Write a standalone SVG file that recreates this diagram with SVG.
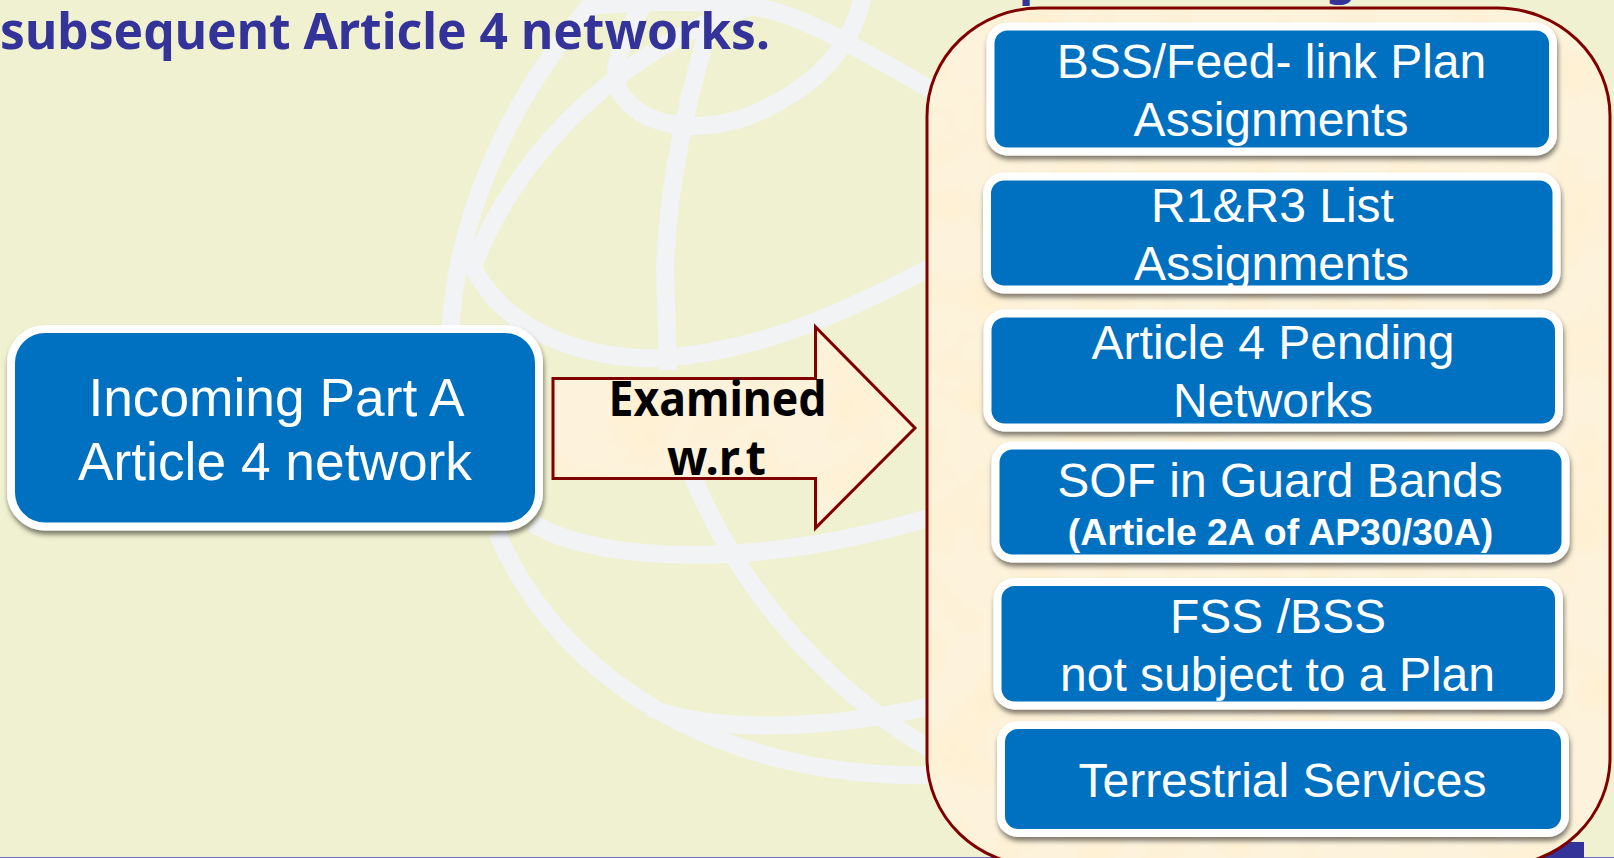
<svg xmlns="http://www.w3.org/2000/svg" width="1614" height="858" viewBox="0 0 1614 858">
<defs>
<filter id="sh" x="-5%" y="-10%" width="110%" height="125%"><feDropShadow dx="1" dy="4" stdDeviation="2.500" flood-color="#000" flood-opacity="0.5"/></filter>
<filter id="tex" x="0" y="0" width="100%" height="100%" color-interpolation-filters="sRGB">
<feTurbulence type="fractalNoise" baseFrequency="0.018" numOctaves="3" seed="4" result="n"/>
<feColorMatrix in="n" type="matrix" values="0 0 0 0 1  0 0 0 0 0.93  0 0 0 0 0.78  1.200 0 0 0 -0.480" result="c"/>
<feComposite in="c" in2="SourceGraphic" operator="atop" result="t"/>
<feMerge><feMergeNode in="SourceGraphic"/><feMergeNode in="t"/></feMerge>
</filter>
<path id="arrow-shape" d="M553,378.500H815.500V327L915,428L815.500,528V478.500H553Z"/>
<rect id="wrap-shape" x="927" y="8" width="683" height="858" rx="113" ry="108"/>
</defs>
<style>
.globe{fill:none;stroke:#F1F3F5;stroke-width:18}
.node{fill:#0070C0;stroke:#fff;stroke-width:8;filter:url(#sh)}
.lab{font-family:"Liberation Sans",Arial,sans-serif;font-size:48px;fill:#fff;text-anchor:middle}
.big{font-size:53.300px}
.sub{font-size:37.400px;font-weight:700}
.title{font-family:"Noto Sans",sans-serif;font-weight:700;fill:#333399}
.wf{fill:#FDF3DC;filter:url(#tex)}
.ws{fill:none;stroke:#800000;stroke-width:3}
.ex{font-family:"Noto Sans",sans-serif;font-weight:700;font-size:47.500px;fill:#000;text-anchor:middle}
</style>
<rect id="background" width="1614" height="858" fill="#F0F1D0"/>
<g id="globe">
<path class="globe" d="M450,335C455,230 500,110 590,6Q670,-2 750,6C800,12 870,55 935,92M497,533C560,680 720,780 935,775"/>
<path class="globe" d="M750,7C640,40 520,140 473,267C510,340 600,360 660,358C760,352 850,310 935,265"/>
<path class="globe" d="M643,5C620,40 610,75 620,92C640,125 690,135 747,117C800,95 850,60 863,-5"/>
<path class="globe" d="M720,-5C690,80 668,180 665,267L668,370M690,470C730,570 810,680 935,752"/>
<path class="globe" d="M533,523C575,552 720,580 935,516"/>
<path class="globe" d="M650,708C720,735 840,728 935,705"/>
</g>
<rect id="footer-line" x="0" y="857" width="1614" height="1" fill="#7472B0"/>
<rect id="footer-block" x="1500" y="842" width="84" height="16" fill="#333399"/>
<text class="title" x="0" y="49" font-size="51" textLength="770" lengthAdjust="spacingAndGlyphs">subsequent Article 4 networks.</text>
<text class="title" x="1019" y="-5.500" font-size="47">p</text>
<text class="title" x="1326" y="-6" font-size="47">g</text>
<g id="connectors">
<use href="#arrow-shape" class="wf"/><use href="#arrow-shape" class="ws"/>
<text class="ex" x="717.500" y="416" textLength="218" lengthAdjust="spacingAndGlyphs">Examined</text>
<text class="ex" x="716.500" y="475" textLength="99" lengthAdjust="spacingAndGlyphs">w.r.t</text>
</g>
<g id="container"><use href="#wrap-shape" class="wf"/><use href="#wrap-shape" class="ws"/></g>
<g id="n0"><rect class="node" x="11" y="329" width="528" height="197.500" rx="34"/><text class="lab big" x="276.500" y="416">Incoming Part A</text><text class="lab big" x="275" y="479.500">Article 4 network</text></g>
<g id="n1"><rect class="node" x="990.500" y="26.500" width="562.500" height="125" rx="17"/><text class="lab" x="1271.500" y="78">BSS/Feed- link Plan</text><text class="lab" x="1271" y="136">Assignments</text></g>
<g id="n2"><rect class="node" x="987" y="176.500" width="569.500" height="113" rx="17"/><text class="lab" x="1272.500" y="222">R1&amp;R3 List</text><text class="lab" x="1271.500" y="280">Assignments</text></g>
<g id="n3"><rect class="node" x="987.500" y="313.500" width="571.500" height="114" rx="17"/><text class="lab" x="1273" y="359">Article 4 Pending</text><text class="lab" x="1273" y="417">Networks</text></g>
<g id="n4"><rect class="node" x="995.500" y="445.500" width="570" height="113" rx="17"/><text class="lab" x="1280" y="497">SOF in Guard Bands</text><text class="lab sub" x="1280.500" y="544.500">(Article 2A of AP30/30A)</text></g>
<g id="n5"><rect class="node" x="997.500" y="582" width="561.500" height="123.500" rx="17"/><text class="lab" x="1278" y="633">FSS /BSS</text><text class="lab" x="1277.500" y="691">not subject to a Plan</text></g>
<g id="n6"><rect class="node" x="1001" y="725" width="564" height="108" rx="17"/><text class="lab" x="1282.500" y="797">Terrestrial Services</text></g>
</svg>
